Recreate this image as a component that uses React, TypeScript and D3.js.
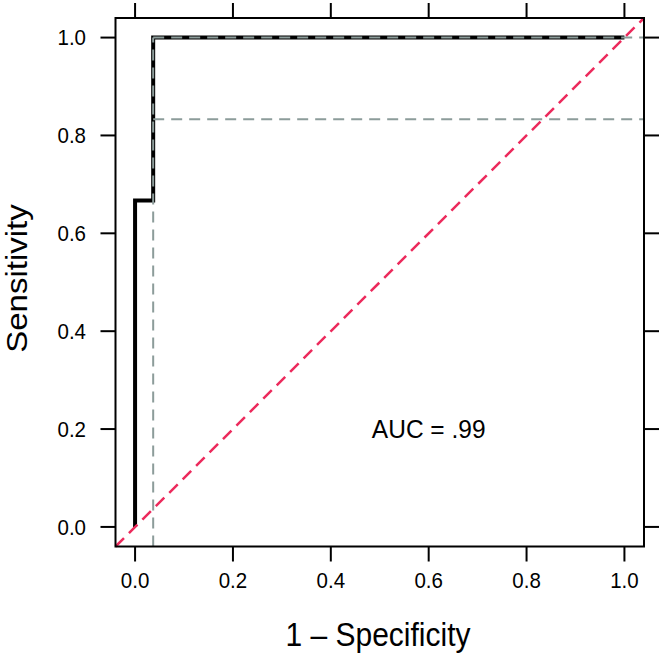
import React from 'react';
import * as d3 from 'd3';

// ROC curve steps (1 - specificity, sensitivity)
const fpr = [0, 0, 0.037, 0.037, 1];
const tpr = [0, 0.667, 0.667, 1, 1];

// dashed reference lines at the chosen cutoff
const cutoffX = [0.037];
const cutoffY = [0.833, 1.0];

const tickValues = [0, 0.2, 0.4, 0.6, 0.8, 1.0];
const tickLabels = ['0.0', '0.2', '0.4', '0.6', '0.8', '1.0'];

const aucLabel = 'AUC = .99';
const aucPos = [0.6, 0.2];

const W = 664;
const H = 655;
const font = '"Liberation Sans", Arial, Helvetica, sans-serif';

export default function App() {
  const x = d3.scaleLinear().domain([-0.04, 1.04]).range([115.5, 644]);
  const y = d3.scaleLinear().domain([-0.04, 1.04]).range([546.5, 18]);
  const [x0, x1] = x.range();
  const [y0, y1] = y.range();
  const tickLen = 15;

  const line = d3
    .line<number>()
    .x((_, i) => x(fpr[i]))
    .y((d) => y(d));

  return (
    <svg
      width={W}
      height={H}
      style={{ position: 'absolute', left: 0, top: 0, background: '#fff' }}
      fontFamily={font}
    >
      {/* ticks on all four sides */}
      {tickValues.map((t, i) => (
        <g key={'t' + i} stroke="#000" strokeWidth={2}>
          <line x1={x(t)} x2={x(t)} y1={y0} y2={y0 + tickLen} />
          <line x1={x(t)} x2={x(t)} y1={y1} y2={y1 - tickLen} />
          <line x1={x0} x2={x0 - tickLen} y1={y(t)} y2={y(t)} />
          <line x1={x1} x2={x1 + tickLen} y1={y(t)} y2={y(t)} />
        </g>
      ))}
      {tickValues.map((t, i) => (
        <text
          key={'xl' + i}
          transform={`translate(${x(t)},588) scale(1,1.08)`}
          textAnchor="middle"
          fontSize={20.5}
        >
          {tickLabels[i]}
        </text>
      ))}
      {tickValues.map((t, i) => (
        <text
          key={'yl' + i}
          transform={`translate(86,${y(t) + 7.8}) scale(1,1.08)`}
          textAnchor="end"
          fontSize={20.5}
        >
          {tickLabels[i]}
        </text>
      ))}

      {/* ROC curve */}
      <path d={line(tpr) || ''} fill="none" stroke="#000" strokeWidth={4} />

      {/* cutoff guides */}
      {cutoffX.map((c, i) => (
        <line
          key={'cx' + i}
          x1={x(c)}
          x2={x(c)}
          y1={y0}
          y2={y(1)}
          stroke="#8c9c9a"
          strokeWidth={2}
          strokeDasharray="11 7"
        />
      ))}
      {cutoffY.map((c, i) => (
        <line
          key={'cy' + i}
          x1={x(cutoffX[0])}
          x2={x1}
          y1={y(c)}
          y2={y(c)}
          stroke="#8c9c9a"
          strokeWidth={2}
          strokeDasharray="11 7"
        />
      ))}

      {/* chance diagonal */}
      <line
        x1={x(-0.04)}
        y1={y(-0.04)}
        x2={x(1.04)}
        y2={y(1.04)}
        stroke="#ec2a5c"
        strokeWidth={2.5}
        strokeDasharray="12 7"
      />

      {/* panel box */}
      <rect
        x={x0}
        y={y1}
        width={x1 - x0}
        height={y0 - y1}
        fill="none"
        stroke="#000"
        strokeWidth={2}
      />

      <text
        transform={`translate(${x(aucPos[0])},${y(aucPos[1]) + 8.5}) scale(1,1.05)`}
        textAnchor="middle"
        fontSize={24.5}
      >
        {aucLabel}
      </text>

      <text transform="translate(378,646) scale(1,1.12)" textAnchor="middle" fontSize={30}>
        1 – Specificity
      </text>
      <text
        transform="translate(27,278.5) rotate(-90) scale(1.1,1)"
        textAnchor="middle"
        fontSize={30}
      >
        Sensitivity
      </text>
    </svg>
  );
}
